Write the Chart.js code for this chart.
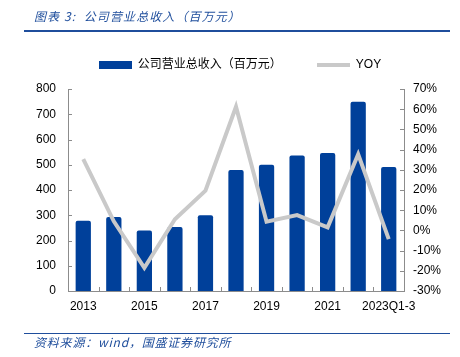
<!DOCTYPE html>
<html><head><meta charset="utf-8">
<script src="https://cdn.jsdelivr.net/npm/chart.js@4/dist/chart.umd.min.js"></script>
<style>
html,body{margin:0;padding:0;background:#fff;}
#wrap{position:relative;width:460px;height:357px;overflow:hidden;}
#c{position:absolute;left:0;top:0;}
.title{position:absolute;left:34px;top:7px;font-family:"Noto Sans CJK SC";font-style:italic;font-size:12px;color:#1f4e9c;letter-spacing:1.1px;white-space:nowrap;}
.src{position:absolute;left:34px;top:333px;font-family:"Noto Sans CJK SC";font-style:italic;font-size:12px;color:#1f4e9c;letter-spacing:0.8px;white-space:nowrap;}
.ln{position:absolute;left:24px;width:426px;height:1.5px;background:#1f4e9c;}
</style></head>
<body><div id="wrap">
<canvas id="c" width="460" height="357"></canvas>
<div class="title">图表 3:&nbsp;&nbsp;公司营业总收入（百万元）</div>
<div class="ln" style="top:30px"></div>
<div class="ln" style="top:332.5px;height:1.2px"></div>
<div class="src">资料来源：wind，国盛证券研究所</div>
</div>
<script>
const categories = ['2013','2014','2015','2016','2017','2018','2019','2020','2021','2022','2023Q1-3'];
const revenue = [278, 293, 240, 253, 300, 479, 500, 537, 547, 750, 491];
const yoy = [35.3, 4.5, -18.5, 5.5, 19.7, 61.2, 4.3, 7.6, 1.5, 37.7, -4.3];
const leftTicks = [0,100,200,300,400,500,600,700,800];
const rightTicks = [-30,-20,-10,0,10,20,30,40,50,60,70];

const BLUE = '#00409a', GREY = '#c9c9c9', AXIS = '#8c8c8c';
const TICKFONT = {family:'"Liberation Sans", Arial, sans-serif',size:12};
function swatch(w,h,color){const cv=document.createElement('canvas');cv.width=w;cv.height=h;const x=cv.getContext('2d');x.fillStyle=color;x.fillRect(0,0,w,h);return cv;}
const barSw = swatch(33,8,BLUE), lineSw = swatch(33,4,GREY);

const tickMarks = {
  id:'tickMarks',
  afterDraw(chart){
    const ctx=chart.ctx, a=chart.chartArea;
    const yl=chart.scales.y, yr=chart.scales.y1, x=chart.scales.x;
    ctx.save(); ctx.strokeStyle=AXIS; ctx.lineWidth=1;
    ctx.beginPath();
    leftTicks.forEach(v=>{const p=Math.round(yl.getPixelForValue(v))+0.5; ctx.moveTo(a.left,p); ctx.lineTo(a.left+4,p);});
    rightTicks.forEach(v=>{const p=Math.round(yr.getPixelForValue(v))+0.5; ctx.moveTo(a.right-4,p); ctx.lineTo(a.right,p);});
    for(let i=1;i<categories.length;i++){
      const p=Math.round((x.getPixelForValue(i-1)+x.getPixelForValue(i))/2)+0.5;
      ctx.moveTo(p,a.bottom); ctx.lineTo(p,a.bottom-4);
    }
    ctx.stroke(); ctx.restore();
  }
};
const legendGap = {
  id:'legendGap',
  beforeLayout(chart){
    const lg=chart.legend;
    if(lg && !lg._gapPatched){
      const fit=lg.fit;
      lg.fit=function(){fit.call(this); this.height+=8;};
      lg._gapPatched=true;
    }
  }
};

new Chart(document.getElementById('c'), {
  data:{
    labels:categories,
    datasets:[
      {type:'bar',label:'公司营业总收入（百万元）',data:revenue,backgroundColor:BLUE,yAxisID:'y',order:1,
       barPercentage:0.5,categoryPercentage:1,borderRadius:2,pointStyle:barSw},
      {type:'line',label:'YOY',data:yoy,borderColor:GREY,borderWidth:4,pointRadius:0,tension:0,yAxisID:'y1',order:0,
       pointStyle:lineSw,borderJoinStyle:'miter'}
    ]
  },
  options:{
    responsive:false,animation:false,
    layout:{padding:{left:20,right:0,top:24,bottom:40}},
    plugins:{
      tooltip:{enabled:false},
      legend:{position:'top',labels:{usePointStyle:true,pointStyleWidth:33,boxHeight:8,padding:35,color:'#000',
        sort:(a,b)=>a.datasetIndex-b.datasetIndex,
        font:{family:'"Liberation Sans", "Noto Sans CJK SC", sans-serif',size:12}}}
    },
    scales:{
      x:{grid:{display:false,drawTicks:false},border:{display:true,color:AXIS},
         ticks:{autoSkip:false,maxRotation:0,padding:8,color:'#000',font:TICKFONT,
           callback:(v,i)=> i%2===0?categories[i]:''},
         afterFit:s=>{s.height=26;}},
      y:{position:'left',min:0,max:800,grid:{display:false,drawTicks:false},border:{display:true,color:AXIS},
         ticks:{stepSize:100,padding:12,color:'#000',font:TICKFONT},
         afterFit:s=>{s.width=48;}},
      y1:{position:'right',min:-30,max:70,grid:{display:false,drawTicks:false},border:{display:true,color:AXIS},
         ticks:{stepSize:10,padding:9,color:'#000',font:TICKFONT,callback:v=>v+'%'},
         afterFit:s=>{s.width=56;}}
    }
  },
  plugins:[tickMarks,legendGap]
});
</script>
</body></html>
